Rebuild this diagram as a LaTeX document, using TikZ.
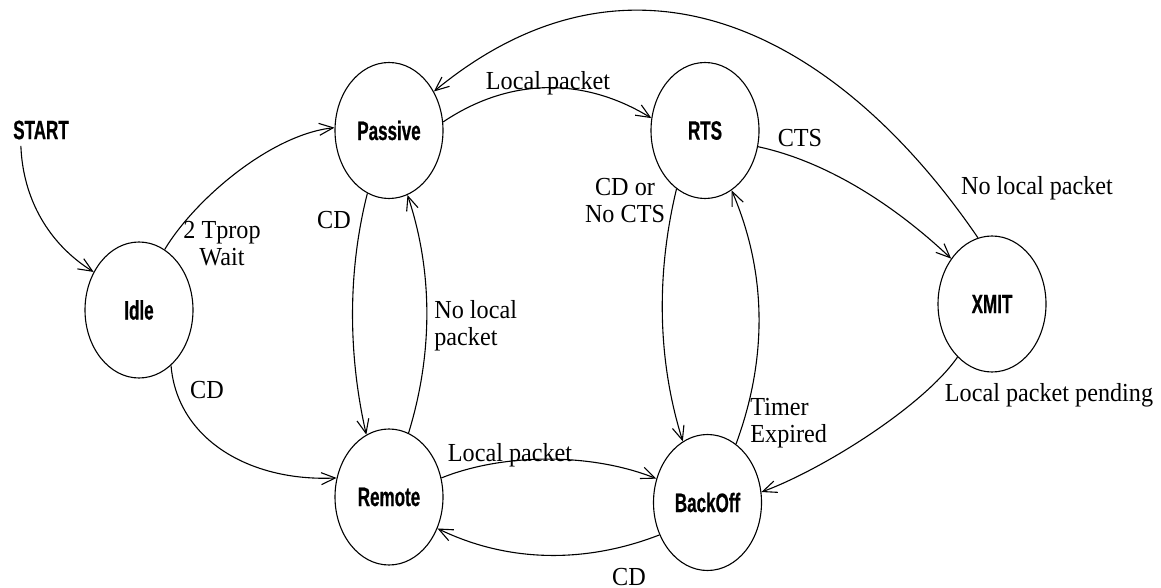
\documentclass[tikz,border=0pt]{standalone}
\usepackage{fontspec}
\usetikzlibrary{shapes.geometric,arrows.meta}
\newfontfamily\statefont[FakeStretch=0.64,FakeBold=0.6]{Liberation Sans Bold}
\newfontfamily\labelfont[FakeStretch=0.93]{Liberation Serif}
\begin{document}
\begin{tikzpicture}[x=0.5pt,y=-0.5pt,
  state/.style={draw,ellipse,line width=0.55pt,minimum width=54pt,minimum height=68pt,
    inner sep=0pt,font=\statefont\fontsize{13.3}{15}\selectfont},
  caption/.style={inner sep=0pt,font=\labelfont\fontsize{13}{13.5}\selectfont},
  edge/.style={line width=0.55pt,-{Straight Barb[length=7pt,width=6pt]}}]
\useasboundingbox (0,0) rectangle (1161,588);

% states
\node[inner sep=0pt,font=\statefont\fontsize{13.3}{15}\selectfont] (start) at (41,130) {START};
\node[state] (idle)    at (139,310)   {Idle};
\node[state] (passive) at (389,130.5) {Passive};
\node[state] (rts)     at (705,130.5) {RTS};
\node[state] (remote)  at (389,497)   {Remote};
\node[state] (backoff) at (707.5,502.5) {BackOff};
\node[state] (xmit)    at (992,304)   {XMIT};

% transitions
\draw[edge] ([xshift=4pt,yshift=-3pt]start.south west) .. controls +(2,53) and +(-45,-28) .. (idle.140);
\draw[edge] (idle.67) .. controls +(30,-50) and +(-64,7) .. (passive.177);
\draw[edge] (idle.-60) .. controls +(6,73) and +(-88,4) .. (remote.160);
\draw[edge] (passive.9) .. controls +(67,-45) and +(-67,-41) .. (rts.167);
\draw[edge] (xmit.102) .. controls +(-140,-205) and +(200,-165) .. (passive.41);
\draw[edge] (rts.-17) .. controls +(70,15) and +(-55,-52) .. (xmit.132);
\draw[edge] (xmit.-123) .. controls +(-35,50) and +(60,-22) .. (backoff.11);
\draw[edge] (rts.-116) .. controls +(-20,83) and +(-26,-83) .. (backoff.112);
\draw[edge] (backoff.64) .. controls +(31,-84) and +(36,84) .. (rts.-66);
\draw[edge] (passive.-109) .. controls +(-20,79) and +(-18,-79) .. (remote.110);
\draw[edge] (remote.73) .. controls +(24,-78) and +(26,78) .. (passive.-74);
\draw[edge] (remote.20) .. controls +(62,-25) and +(-65,-26) .. (backoff.155);
\draw[edge] (backoff.-146) .. controls +(-72,28) and +(72,35) .. (remote.-33);

% transition labels
\node[caption,align=center] (l1) at (222,244) {2 Tprop\\Wait};
\node[caption] (l2) at (548,83) {Local packet};
\node[caption] (l3) at (1037,188) {No local packet};
\node[caption] (l4) at (800,138) {CTS};
\node[caption] (l5) at (1049,395) {Local packet pending};
\node[caption,align=center] (l6) at (625,201) {CD or\\No CTS};
\node[caption,align=left,anchor=west] (l7) at (750,423) {Timer\\Expired};
\node[caption] (l8) at (334,220) {CD};
\node[caption,align=left,anchor=west] (l9) at (434,326) {No local\\packet};
\node[caption] (l10) at (207,390) {CD};
\node[caption] (l11) at (510,455) {Local packet};
\node[caption] (l12) at (629,577) {CD};
\end{tikzpicture}
\end{document}
